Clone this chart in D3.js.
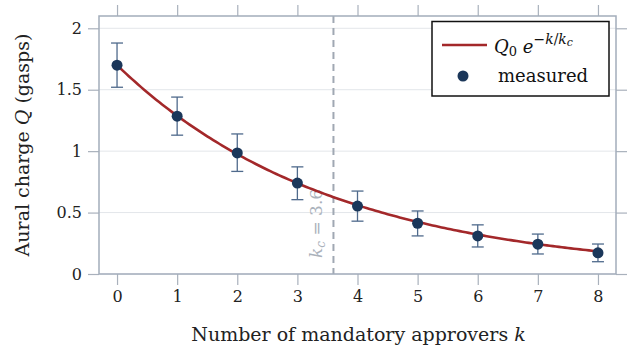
<!DOCTYPE html>
<html><head><meta charset="utf-8">
<script src="https://cdn.jsdelivr.net/npm/d3@7"></script>
<style>body{margin:0;background:#fff}svg{display:block}text{font-family:"DejaVu Serif",serif;}</style>
</head><body><svg id="c" width="629" height="348"></svg>
<script>
const ks = [0,1,2,3,4,5,6,7,8];
const measured = [1.70,1.285,0.985,0.74,0.553,0.413,0.31,0.243,0.172];
const errLow = [1.52,1.13,0.835,0.605,0.43,0.31,0.22,0.163,0.10];
const errHigh = [1.88,1.44,1.14,0.872,0.675,0.513,0.40,0.325,0.244];
const Q0 = 1.7, kc = 3.6;
const xTicks = [0,1,2,3,4,5,6,7,8];
const yTicks = [0,0.5,1,1.5,2];
const yTickLabels = ["0","0.5","1","1.5","2"];

const svg = d3.select("#c");
const L=99,R=616,T=16,B=274;
const x = d3.scaleLinear().domain([-0.3,8.3]).range([L,R]);
const y = d3.scaleLinear().domain([0,2.1]).range([B,T]);
const frameCol="#a3adbb", tickCol="#a9b1bc";

// gridlines
svg.append("g").selectAll("line").data(yTicks).join("line")
 .attr("x1",L).attr("x2",R).attr("y1",d=>y(d)).attr("y2",d=>y(d))
 .attr("stroke","#e3e6ea").attr("stroke-width",1);

// axes
const ax = (g)=>g.call(s=>s.select(".domain").remove()).call(s=>s.selectAll("line").attr("stroke",tickCol).attr("stroke-width",1.2));
svg.append("g").attr("transform",`translate(0,${B})`)
 .call(d3.axisBottom(x).tickValues(xTicks).tickSize(11).tickPadding(6).tickFormat(d3.format("d"))).call(ax)
 .selectAll("text").attr("font-size",16).attr("fill","#222").attr("font-family","DejaVu Serif");
svg.append("g").attr("transform",`translate(0,${T})`)
 .call(d3.axisTop(x).tickValues(xTicks).tickSize(11).tickFormat("")).call(ax);
svg.append("g").attr("transform",`translate(${L},0)`)
 .call(d3.axisLeft(y).tickValues(yTicks).tickSize(11).tickPadding(6).tickFormat((d,i)=>yTickLabels[i])).call(ax)
 .selectAll("text").attr("font-size",16).attr("fill","#222").attr("font-family","DejaVu Serif");
svg.append("g").attr("transform",`translate(${R},0)`)
 .call(d3.axisRight(y).tickValues(yTicks).tickSize(11).tickFormat("")).call(ax);

// kc line
svg.append("line").attr("x1",x(kc)).attr("x2",x(kc)).attr("y1",T).attr("y2",B)
 .attr("stroke","#a0a8b3").attr("stroke-width",2).attr("stroke-dasharray","7,5");
const kl = svg.append("text").attr("transform",`translate(${x(kc)-11},${y(0.13)}) rotate(-90)`)
 .attr("fill","#aab1bb").attr("font-size",17);
kl.append("tspan").attr("font-style","italic").text("k");
kl.append("tspan").attr("font-style","italic").attr("font-size",12).attr("dy",3).text("c");
kl.append("tspan").attr("dy",-3).text(" = 3.6");

// curve
const kk = d3.range(0,8.001,0.05);
svg.append("path").datum(kk)
 .attr("d",d3.line().x(d=>x(d)).y(d=>y(Q0*Math.exp(-d/kc))))
 .attr("fill","none").attr("stroke","#a3282a").attr("stroke-width",2.6);

// error bars
const eg = svg.append("g").attr("stroke","#4f6a8c").attr("stroke-width",1.3);
eg.selectAll(".v").data(ks).join("line").attr("x1",d=>x(d)).attr("x2",d=>x(d))
 .attr("y1",(d,i)=>y(errLow[i])).attr("y2",(d,i)=>y(errHigh[i]));
eg.selectAll(".t").data(ks).join("line").attr("x1",d=>x(d)-6).attr("x2",d=>x(d)+6)
 .attr("y1",(d,i)=>y(errHigh[i])).attr("y2",(d,i)=>y(errHigh[i]));
eg.selectAll(".b").data(ks).join("line").attr("x1",d=>x(d)-6).attr("x2",d=>x(d)+6)
 .attr("y1",(d,i)=>y(errLow[i])).attr("y2",(d,i)=>y(errLow[i]));
svg.append("g").selectAll("circle").data(ks).join("circle")
 .attr("cx",d=>x(d)).attr("cy",(d,i)=>y(measured[i])).attr("r",5.5).attr("fill","#1b375a");

// frame
svg.append("rect").attr("x",L).attr("y",T).attr("width",R-L).attr("height",B-T)
 .attr("fill","none").attr("stroke",frameCol).attr("stroke-width",1.5);

// legend
const lg = svg.append("g");
lg.append("rect").attr("x",432).attr("y",21.5).attr("width",177).attr("height",74.5)
 .attr("fill","#fff").attr("stroke","#111").attr("stroke-width",1.5);
lg.append("line").attr("x1",442).attr("x2",487).attr("y1",45).attr("y2",45).attr("stroke","#a3282a").attr("stroke-width",2.6);
const lt = lg.append("text").attr("x",494).attr("y",53).attr("font-size",18).attr("fill","#111");
lt.append("tspan").attr("font-style","italic").text("Q");
lt.append("tspan").attr("font-size",13).attr("dy",3).text("0");
lt.append("tspan").attr("dy",-3).attr("font-style","italic").text(" e");
lt.append("tspan").attr("font-size",14).attr("dy",-9).text("−");
lt.append("tspan").attr("font-size",14).attr("font-style","italic").text("k");
lt.append("tspan").attr("font-size",14).text("/");
lt.append("tspan").attr("font-size",14).attr("font-style","italic").text("k");
lt.append("tspan").attr("font-size",11).attr("font-style","italic").attr("dy",2).text("c");
lg.append("circle").attr("cx",463).attr("cy",76).attr("r",5.5).attr("fill","#1b375a");
lg.append("text").attr("x",498).attr("y",82).attr("font-size",18).attr("fill","#111").text("measured");

// axis titles
const xt = svg.append("text").attr("x",(L+R)/2+1).attr("y",341).attr("text-anchor","middle").attr("font-size",19).attr("fill","#222");
xt.append("tspan").text("Number of mandatory approvers ");
xt.append("tspan").attr("font-style","italic").text("k");
const yt = svg.append("text").attr("transform",`translate(29,${(T+B)/2}) rotate(-90)`).attr("text-anchor","middle").attr("font-size",19).attr("fill","#222");
yt.append("tspan").text("Aural charge ");
yt.append("tspan").attr("font-style","italic").text("Q");
yt.append("tspan").text(" (gasps)");
</script></body></html>
